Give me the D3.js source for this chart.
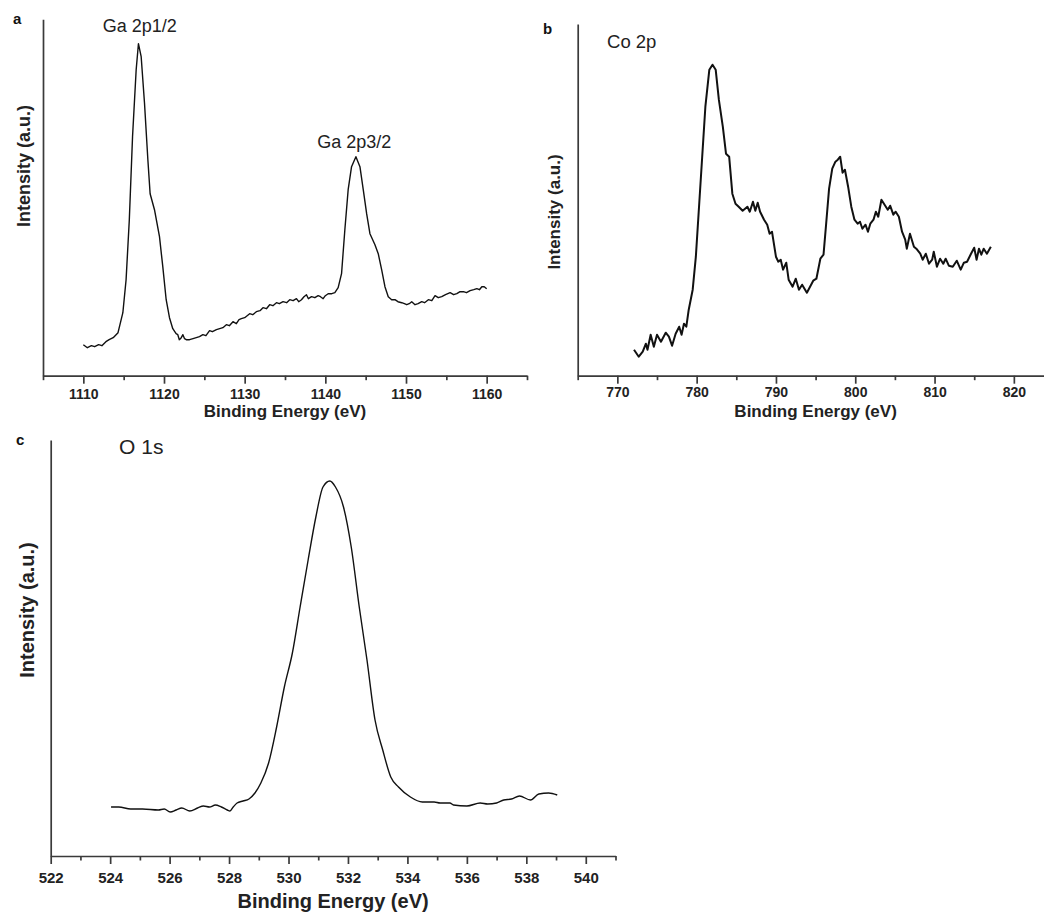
<!DOCTYPE html>
<html>
<head>
<meta charset="utf-8">
<script src="https://cdn.jsdelivr.net/npm/d3@7"></script>
<style>
  body { margin: 0; background: #fff; }
  svg { display: block; font-family: "Liberation Sans", Arial, sans-serif; }
</style>
</head>
<body>
<svg width="1044" height="913"></svg>
<script>
// XPS spectra, [binding energy (eV), intensity (a.u.)]
const gaSpectrum = [
  [1110.0, 31], [1110.5, 28], [1111.0, 30], [1111.4, 29], [1111.9, 31], [1112.3, 30], [1112.8, 34],
  [1113.2, 36], [1113.7, 38], [1114.3, 43], [1114.9, 63], [1115.3, 96], [1115.7, 156], [1116.1, 239],
  [1116.55, 306], [1116.83, 332], [1117.17, 319], [1117.58, 273], [1118.0, 216], [1118.28, 182],
  [1118.82, 166], [1119.44, 139], [1119.85, 109], [1120.27, 76], [1120.68, 58], [1121.09, 47],
  [1121.5, 42], [1121.71, 41], [1121.9, 36], [1122.14, 38], [1122.34, 41], [1122.55, 37], [1122.76, 36],
  [1123.17, 36], [1123.6, 37], [1124.0, 38], [1124.4, 39], [1124.82, 41], [1125.2, 40], [1125.65, 45],
  [1126.0, 44], [1126.5, 46], [1126.9, 47], [1127.3, 48], [1127.73, 51], [1128.1, 50], [1128.55, 54],
  [1128.97, 52], [1129.3, 56], [1129.59, 57], [1130.0, 58], [1130.62, 62], [1131.0, 61], [1131.45, 64],
  [1131.9, 65], [1132.27, 68], [1132.7, 67], [1133.1, 71], [1133.5, 70], [1133.94, 73], [1134.3, 72],
  [1134.76, 74], [1135.2, 73], [1135.59, 76], [1136.0, 75], [1136.42, 77], [1136.7, 74], [1137.04, 76],
  [1137.35, 79], [1137.66, 81], [1137.9, 77], [1138.29, 79], [1138.7, 78], [1139.11, 80], [1139.4, 79],
  [1139.73, 77], [1140.0, 80], [1140.35, 82], [1140.8, 82], [1141.18, 83], [1141.59, 88], [1142.01, 102],
  [1142.42, 146], [1142.83, 186], [1143.25, 209], [1143.79, 219], [1144.29, 209], [1144.7, 186],
  [1145.12, 162], [1145.53, 142], [1146.15, 131], [1146.56, 122], [1146.98, 106], [1147.39, 89],
  [1147.8, 79], [1148.22, 76], [1148.63, 76], [1149.0, 74], [1149.47, 73], [1149.8, 72], [1150.09, 71],
  [1150.4, 72], [1150.71, 74], [1151.12, 71], [1151.5, 72], [1151.95, 74], [1152.3, 73], [1152.77, 76],
  [1153.2, 75], [1153.6, 80], [1154.0, 78], [1154.43, 79], [1154.9, 81], [1155.47, 83], [1155.9, 81],
  [1156.3, 82], [1156.7, 84], [1157.12, 84], [1157.5, 83], [1157.95, 85], [1158.4, 86], [1158.78, 87],
  [1159.1, 86], [1159.4, 89], [1159.7, 89], [1160.0, 87]
];

const coSpectrum = [
  [772.1, 26], [772.7, 19], [773.2, 24], [773.6, 32], [773.8, 26], [774.2, 41], [774.6, 29], [775.0, 41],
  [775.5, 34], [776.1, 43], [776.5, 39], [776.9, 30], [777.35, 42], [777.8, 49], [778.1, 41], [778.4, 52],
  [778.7, 49], [779.0, 66], [779.5, 86], [779.9, 119], [780.3, 169], [780.7, 219], [781.1, 269],
  [781.6, 306], [782.0, 311], [782.4, 306], [782.8, 276], [783.3, 249], [783.7, 222], [784.1, 219],
  [784.5, 182], [784.9, 172], [785.3, 169], [785.8, 165], [786.4, 169], [786.7, 164], [787.1, 174],
  [787.4, 165], [787.7, 173], [788.0, 164], [788.5, 156], [788.9, 151], [789.2, 142], [789.5, 144],
  [790.0, 119], [790.3, 114], [790.6, 116], [790.9, 106], [791.3, 113], [791.6, 96], [792.1, 89],
  [792.5, 97], [792.9, 86], [793.3, 91], [793.9, 83], [794.3, 89], [794.7, 95], [795.1, 97], [795.6, 117],
  [796.0, 121], [796.3, 149], [796.7, 187], [797.1, 207], [797.5, 214], [797.8, 216], [798.1, 219],
  [798.4, 203], [798.7, 206], [799.1, 189], [799.5, 169], [799.9, 156], [800.3, 152], [800.6, 154],
  [800.9, 147], [801.3, 151], [801.6, 144], [801.9, 152], [802.3, 156], [802.6, 164], [802.9, 159],
  [803.3, 176], [803.7, 171], [804.1, 166], [804.4, 170], [804.8, 161], [805.1, 164], [805.5, 159],
  [805.9, 144], [806.3, 136], [806.5, 127], [806.9, 142], [807.4, 129], [807.7, 127], [808.2, 122],
  [808.5, 116], [808.9, 122], [809.3, 112], [809.7, 116], [809.9, 124], [810.3, 109], [810.7, 117],
  [811.1, 112], [811.4, 117], [811.8, 110], [812.3, 109], [812.8, 115], [813.3, 106], [813.7, 113],
  [814.1, 114], [814.6, 122], [815.0, 128], [815.3, 116], [815.6, 127], [815.9, 121], [816.2, 127],
  [816.6, 122], [817.1, 129]
];

const oSpectrum = [
  [524.03, 49], [524.29, 49], [524.69, 47], [525.09, 47], [525.62, 46], [525.82, 47], [526.02, 44],
  [526.22, 46], [526.41, 48], [526.68, 45], [526.94, 48], [527.14, 50], [527.34, 49], [527.54, 51],
  [527.74, 49], [527.94, 46], [528.03, 45], [528.14, 49], [528.27, 53], [528.47, 55], [528.67, 57],
  [528.87, 63], [529.07, 73], [529.33, 93], [529.6, 129], [529.86, 169], [530.13, 203], [530.39, 249],
  [530.66, 296], [530.92, 339], [531.16, 369], [531.39, 375], [531.58, 369], [531.85, 349],
  [532.11, 309], [532.38, 249], [532.64, 196], [532.91, 136], [533.17, 106], [533.44, 79], [533.7, 69],
  [534.1, 59], [534.5, 54], [534.9, 54], [535.1, 53], [535.43, 53], [535.55, 51], [536.0, 50],
  [536.45, 53], [536.7, 52], [537.0, 53], [537.24, 56], [537.5, 57], [537.77, 60], [538.14, 56],
  [538.42, 62], [538.75, 63], [539.04, 61]
];

// tick labels
const gaTicks = [1110, 1120, 1130, 1140, 1150, 1160];
const gaMinorTicks = [1105, 1115, 1125, 1135, 1145, 1155, 1165];
const coTicks = [770, 780, 790, 800, 810, 820];
const coMinorTicks = [765, 775, 785, 795, 805, 815, 825];
const oTicks = [522, 524, 526, 528, 530, 532, 534, 536, 538, 540];
const oMinorTicks = [523, 525, 527, 529, 531, 533, 535, 537, 539, 541];

const svg = d3.select("svg");

const panels = [
  {
    letter: "a", letterPos: [13, 24],
    data: gaSpectrum, ticks: gaTicks, minor: gaMinorTicks,
    xDomain: [1105, 1165], yMax: 356.4,
    left: 43, right: 527, top: 19.3, bottom: 375.7,
    stroke: 1.4, curve: d3.curveLinear, tickFont: 14, tickPad: 5.5,
    xTitle: { size: 17, y: 417 },
    yTitle: { size: 18, x: 30, y: 166 },
    notes: [
      { text: "Ga 2p1/2", e: 1117.0, v: 344, anchor: "middle", size: 18 },
      { text: "Ga 2p3/2", e: 1143.6, v: 227.5, anchor: "middle", size: 18 }
    ]
  },
  {
    letter: "b", letterPos: [543, 34],
    data: coSpectrum, ticks: coTicks, minor: coMinorTicks,
    xDomain: [765, 825], yMax: 351.7,
    left: 577.7, right: 1053.5, top: 24, bottom: 375.7,
    stroke: 2, curve: d3.curveLinear, tickFont: 14, tickPad: 3.5,
    xTitle: { size: 17, y: 417 },
    yTitle: { size: 17, x: 560, y: 212 },
    notes: [
      { text: "Co 2p", e: 768.7, v: 327.7, anchor: "start", size: 18.5 }
    ]
  },
  {
    letter: "c", letterPos: [16, 445],
    data: oSpectrum, ticks: oTicks, minor: oMinorTicks,
    xDomain: [522, 541], yMax: 416,
    left: 50.7, right: 615.5, top: 440, bottom: 856,
    stroke: 1.4, curve: d3.curveMonotoneX, tickFont: 15, tickPad: 8,
    xTitle: { size: 20, y: 908 },
    yTitle: { size: 20, x: 34, y: 610 },
    notes: [
      { text: "O 1s", e: 524.3, v: 402, anchor: "start", size: 21 }
    ]
  }
];

panels.forEach(p => {
  const x = d3.scaleLinear().domain(p.xDomain).range([p.left, p.right]);
  const y = d3.scaleLinear().domain([0, p.yMax]).range([p.bottom, p.top]);
  const g = svg.append("g");

  // minor ticks first, then labelled major ticks
  g.append("g")
    .attr("transform", `translate(0,${p.bottom})`)
    .call(d3.axisBottom(x).tickValues(p.minor).tickSize(4.5).tickSizeOuter(0).tickFormat(""))
    .call(a => a.select(".domain").remove());

  g.append("g")
    .attr("transform", `translate(0,${p.bottom})`)
    .call(d3.axisBottom(x).tickValues(p.ticks).tickSize(8).tickSizeOuter(0)
      .tickPadding(p.tickPad).tickFormat(d3.format("d")))
    .call(a => a.selectAll("text")
      .attr("font-size", p.tickFont)
      .attr("font-weight", "bold")
      .attr("fill", "#222"));

  g.append("g")
    .attr("transform", `translate(${p.left},0)`)
    .call(d3.axisLeft(y).tickValues([]).tickSizeOuter(0));

  g.selectAll(".domain, .tick line")
    .attr("stroke", "#3a3a3a")
    .attr("stroke-width", 1.7);

  g.append("path")
    .datum(p.data)
    .attr("fill", "none")
    .attr("stroke", "#111")
    .attr("stroke-width", p.stroke)
    .attr("stroke-linejoin", "round")
    .attr("d", d3.line().curve(p.curve).x(d => x(d[0])).y(d => y(d[1])));

  g.append("text")
    .attr("x", (p.left + p.right) / 2)
    .attr("y", p.xTitle.y)
    .attr("text-anchor", "middle")
    .attr("font-size", p.xTitle.size)
    .attr("font-weight", "bold")
    .attr("fill", "#222")
    .text("Binding Energy (eV)");

  g.append("text")
    .attr("transform", `translate(${p.yTitle.x},${p.yTitle.y}) rotate(-90)`)
    .attr("text-anchor", "middle")
    .attr("font-size", p.yTitle.size)
    .attr("font-weight", "bold")
    .attr("fill", "#222")
    .text("Intensity (a.u.)");

  g.append("text")
    .attr("x", p.letterPos[0])
    .attr("y", p.letterPos[1])
    .attr("font-size", 15)
    .attr("font-weight", "bold")
    .attr("fill", "#111")
    .text(p.letter);

  g.selectAll(".note")
    .data(p.notes)
    .join("text")
    .attr("class", "note")
    .attr("x", d => x(d.e))
    .attr("y", d => y(d.v))
    .attr("text-anchor", d => d.anchor)
    .attr("font-size", d => d.size)
    .attr("fill", "#222")
    .text(d => d.text);
});
</script>
</body>
</html>
